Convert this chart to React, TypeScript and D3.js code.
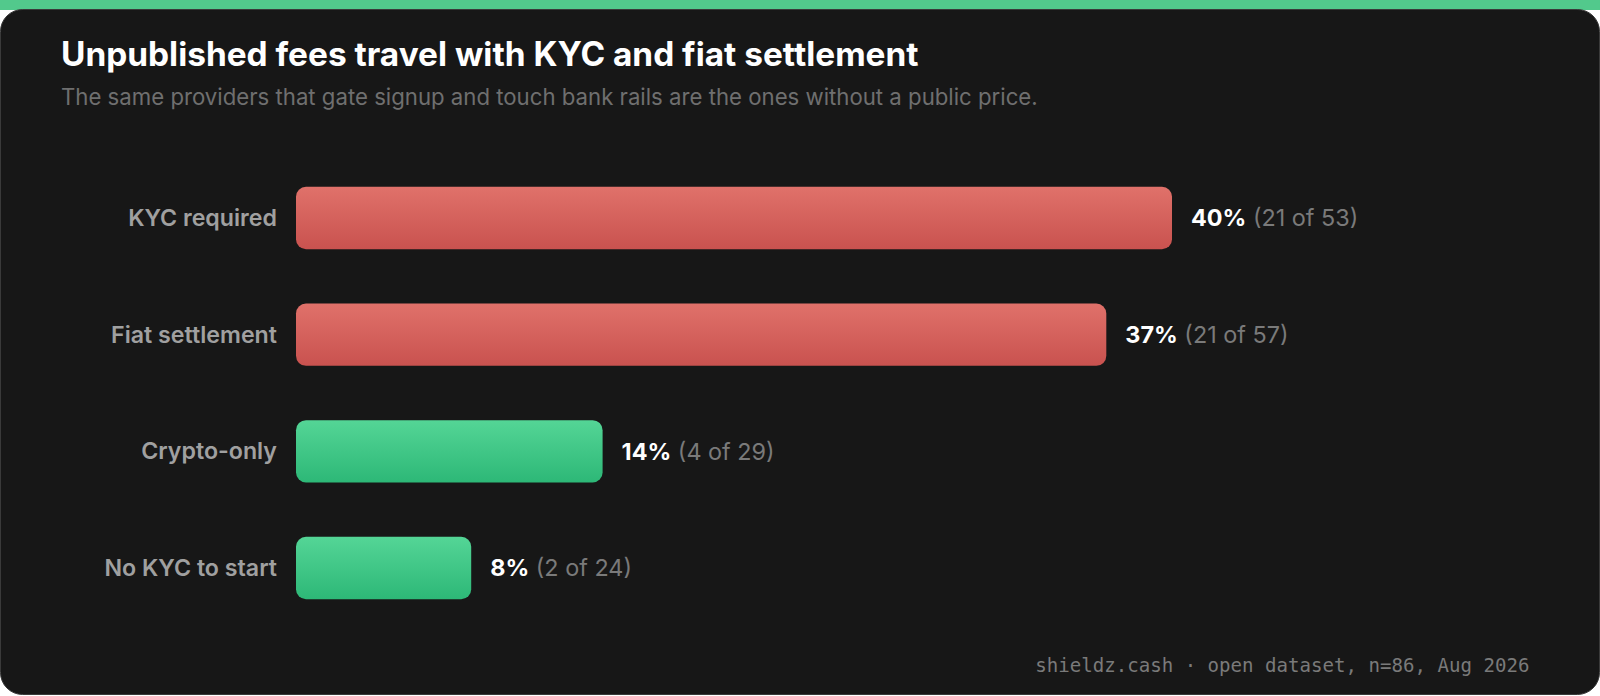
import React, { useEffect, useRef } from 'react';
import * as d3 from 'd3';

const categories = ['KYC required', 'Fiat settlement', 'Crypto-only', 'No KYC to start'];
const percents = [40, 37, 14, 8];
const unpublished = [21, 21, 4, 2];
const totals = [53, 57, 29, 24];
const groups = ['fiat', 'fiat', 'crypto', 'crypto'];

const W = 1600;
const H = 696;

export default function App() {
  const svgRef = useRef<SVGSVGElement>(null);

  useEffect(() => {
    if (!svgRef.current) return;
    const svg = d3.select(svgRef.current);
    svg.selectAll('*').remove();

    const font = 'Inter, "Noto Sans", sans-serif';

    // gradients
    const defs = svg.append('defs');
    const addGrad = (id: string, top: string, bottom: string) => {
      const g = defs.append('linearGradient')
        .attr('id', id)
        .attr('x1', 0).attr('y1', 0).attr('x2', 0).attr('y2', 1);
      g.append('stop').attr('offset', '0%').attr('stop-color', top);
      g.append('stop').attr('offset', '100%').attr('stop-color', bottom);
    };
    addGrad('grad-fiat', '#e0716a', '#c9524f');
    addGrad('grad-crypto', '#54d596', '#2db877');

    // top strip + card
    svg.append('rect')
      .attr('x', 0).attr('y', 0).attr('width', W).attr('height', 10)
      .attr('fill', '#52c98c');
    svg.append('rect')
      .attr('x', 0.5).attr('y', 9.5).attr('width', W - 1).attr('height', H - 11)
      .attr('rx', 22)
      .attr('fill', '#171717')
      .attr('stroke', '#3a3a3a')
      .attr('stroke-width', 1);

    // title
    svg.append('text')
      .attr('x', 61).attr('y', 65.5)
      .attr('font-family', font)
      .attr('font-size', 33.4)
      .attr('font-weight', 700)
      .attr('fill', '#ffffff')
      .text('Unpublished fees travel with KYC and fiat settlement');

    svg.append('text')
      .attr('x', 61).attr('y', 104.5)
      .attr('font-family', font)
      .attr('font-size', 22.2)
      .attr('fill', '#6f6f6f')
      .text('The same providers that gate signup and touch bank rails are the ones without a public price.');

    const x = d3.scaleLinear()
      .domain([0, d3.max(percents) as number])
      .range([296, 1172]);

    const step = 116.67;
    const y = d3.scaleBand()
      .domain(categories)
      .range([218 - step / 2, 218 - step / 2 + step * categories.length])
      .paddingInner(0.466)
      .paddingOuter(0.233);

    const rows = svg.append('g')
      .selectAll('g')
      .data(categories)
      .join('g');

    rows.append('rect')
      .attr('x', x(0))
      .attr('y', d => y(d) as number)
      .attr('width', (d, i) => x(percents[i]) - x(0))
      .attr('height', y.bandwidth())
      .attr('rx', 10)
      .attr('fill', (d, i) => `url(#grad-${groups[i]})`);

    rows.append('text')
      .attr('x', 277)
      .attr('y', d => (y(d) as number) + y.bandwidth() / 2)
      .attr('dy', '0.35em')
      .attr('text-anchor', 'end')
      .attr('font-family', font)
      .attr('font-size', 23.2)
      .attr('font-weight', 600)
      .attr('fill', '#a0a0a0')
      .text(d => d);

    const val = rows.append('text')
      .attr('x', (d, i) => x(percents[i]) + 19)
      .attr('y', d => (y(d) as number) + y.bandwidth() / 2)
      .attr('dy', '0.35em')
      .attr('font-family', font)
      .attr('font-size', 23.4);

    val.append('tspan')
      .attr('font-weight', 700)
      .attr('fill', '#ffffff')
      .text((d, i) => `${percents[i]}%`);

    val.append('tspan')
      .attr('fill', '#7a7a7a')
      .text((d, i) => ` (${unpublished[i]} of ${totals[i]})`);

    // footer
    svg.append('text')
      .attr('x', 1529.5).attr('y', 671.5)
      .attr('text-anchor', 'end')
      .attr('font-family', '"DejaVu Sans Mono", monospace')
      .attr('font-size', 19.1)
      .attr('fill', '#7a7a7a')
      .text('shieldz.cash · open dataset, n=86, Aug 2026');
  }, []);

  return (
    <svg
      ref={svgRef}
      width={W}
      height={H}
      style={{ position: 'absolute', left: 0, top: 0, background: '#ffffff' }}
    />
  );
}
